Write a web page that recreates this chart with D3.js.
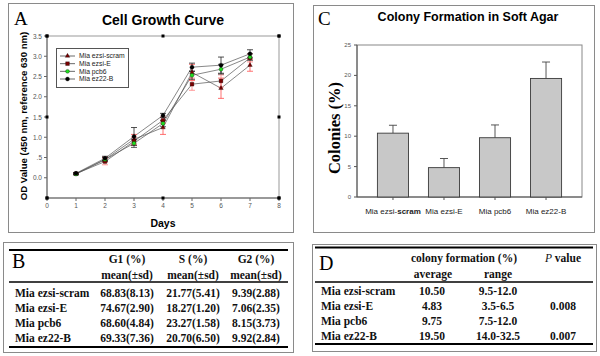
<!DOCTYPE html>
<html>
<head>
<meta charset="utf-8">
<script src="https://cdn.jsdelivr.net/npm/d3@7"></script>
<style>
  body { margin: 0; background: #fff; }
  svg { display: block; }
</style>
</head>
<body>
<svg id="fig"></svg>
<script>
// ---- data ----
const days = [1, 2, 3, 4, 5, 6, 7];
const lineNames = ['Mia ezsi-scram', 'Mia ezsi-E', 'Mia pcb6', 'Mia ez22-B'];

const scramOD = [0.10, 0.45, 0.95, 1.24, 2.60, 2.21, 2.78];
const scramSD = [0.02, 0.06, 0.12, 0.17, 0.20, 0.25, 0.15];
const ezsiEOD = [0.10, 0.40, 0.90, 1.42, 2.31, 2.39, 2.96];
const ezsiESD = [0.02, 0.08, 0.10, 0.08, 0.15, 0.15, 0.10];
const pcb6OD  = [0.09, 0.45, 0.85, 1.34, 2.53, 2.68, 2.98];
const pcb6SD  = [0.02, 0.05, 0.10, 0.08, 0.10, 0.12, 0.08];
const ez22bOD = [0.11, 0.48, 1.02, 1.54, 2.73, 2.78, 3.06];
const ez22bSD = [0.02, 0.05, 0.22, 0.05, 0.10, 0.20, 0.10];

const odTicks = [0, 0.5, 1, 1.5, 2, 2.5, 3, 3.5];
const odTickLabels = ['0.0', '.5', '1.0', '1.5', '2.0', '2.5', '3.0', '3.5'];
const odMajor = [-0.5, 1.5, 3.5];
const dayTicks = [0, 1, 2, 3, 4, 5, 6, 7, 8];
const dayMajor = [0, 4, 8];

const colonyMean = [10.50, 4.83, 9.75, 19.50];
const colonySD = [1.3, 1.5, 2.1, 2.7];
const colonyTicks = [0, 5, 10, 15, 20, 25];

const g1Text = ['68.83(8.13)', '74.67(2.90)', '68.60(4.84)', '69.33(7.36)'];
const sText  = ['21.77(5.41)', '18.27(1.20)', '23.27(1.58)', '20.70(6.50)'];
const g2Text = ['9.39(2.88)', '7.06(2.35)', '8.15(3.73)', '9.92(2.84)'];

const colonyAvgText = ['10.50', '4.83', '9.75', '19.50'];
const colonyRange = ['9.5-12.0', '3.5-6.5', '7.5-12.0', '14.0-32.5'];
const pValues = ['', '0.008', '', '0.007'];

const SANS = 'Liberation Sans, Arial, sans-serif';
const SERIF = 'Liberation Serif, Times New Roman, serif';

const svg = d3.select('#fig').attr('width', 600).attr('height', 356);

function panelBox(x0, y0, x1, y1) {
    svg.append('rect')
        .attr('x', x0 + 0.5).attr('y', y0 + 0.5)
        .attr('width', x1 - x0).attr('height', y1 - y0)
        .attr('fill', 'none').attr('stroke', '#8a8a8a');
}

function letter(t, x, y, size) {
    svg.append('text').attr('x', x).attr('y', y)
        .style('font-family', SERIF).style('font-size', size + 'px')
        .text(t);
}

// ================= A : growth curve =================
function drawGrowth() {
    panelBox(8, 3, 293, 232);
    letter('A', 14, 25, 19);

    const x = d3.scaleLinear().domain([0, 8]).range([47, 279]);
    const y = d3.scaleLinear().domain([-0.5, 3.5]).range([198, 36]);
    const g = svg.append('g');

    g.append('text').attr('x', 163).attr('y', 25)
        .attr('text-anchor', 'middle')
        .style('font-family', SANS).style('font-weight', 'bold').style('font-size', '14px')
        .text('Cell Growth Curve');

    // frame
    g.append('rect').attr('x', x(0)).attr('y', y(3.5))
        .attr('width', x(8) - x(0)).attr('height', y(-0.5) - y(3.5))
        .attr('fill', 'none').attr('stroke', '#999');
    g.append('path')
        .attr('d', `M${x(0)},${y(3.5)}V${y(-0.5)}H${x(8)}`)
        .attr('fill', 'none').attr('stroke', '#666');

    // minor ticks + labels
    g.selectAll('.ytk').data(odTicks).enter().append('line')
        .attr('x1', x(0) - 3).attr('x2', x(0))
        .attr('y1', d => y(d)).attr('y2', d => y(d))
        .attr('stroke', '#666');
    g.selectAll('.ylb').data(odTicks).enter().append('text')
        .attr('x', x(0) - 5).attr('y', d => y(d) + 2.5)
        .attr('text-anchor', 'end')
        .style('font-family', SANS).style('font-size', '6.5px').attr('fill', '#555')
        .text((d, i) => odTickLabels[i]);
    g.selectAll('.xtk').data(dayTicks).enter().append('line')
        .attr('x1', d => x(d)).attr('x2', d => x(d))
        .attr('y1', y(-0.5)).attr('y2', y(-0.5) + 3)
        .attr('stroke', '#666');
    g.selectAll('.xlb').data(dayTicks).enter().append('text')
        .attr('x', d => x(d)).attr('y', y(-0.5) + 10)
        .attr('text-anchor', 'middle')
        .style('font-family', SANS).style('font-size', '6.5px').attr('fill', '#555')
        .text(d => d);

    // black square major ticks on all four sides
    const sq = [];
    odMajor.forEach(v => { sq.push([x(0), y(v)]); sq.push([x(8), y(v)]); });
    dayMajor.forEach(d => { sq.push([x(d), y(3.5)]); sq.push([x(d), y(-0.5)]); });
    g.selectAll('.sq').data(sq).enter().append('rect')
        .attr('x', d => d[0] - 1.5).attr('y', d => d[1] - 1.5)
        .attr('width', 3).attr('height', 3).attr('fill', '#000');

    g.append('text').attr('x', 163).attr('y', 227)
        .attr('text-anchor', 'middle')
        .style('font-family', SANS).style('font-weight', 'bold').style('font-size', '10.5px')
        .text('Days');
    g.append('text')
        .attr('transform', 'translate(27,116) rotate(-90)')
        .attr('text-anchor', 'middle')
        .style('font-family', SANS).style('font-weight', 'bold').style('font-size', '9.6px')
        .text('OD Value (450 nm, reference 630 nm)');

    const series = [
        { name: lineNames[0], od: scramOD, sd: scramSD, fill: '#7a0000', sym: d3.symbolTriangle, size: 9, err: '#ff4d4d' },
        { name: lineNames[1], od: ezsiEOD, sd: ezsiESD, fill: '#7a0000', sym: d3.symbolSquare, size: 14, err: '#ff7f7f' },
        { name: lineNames[2], od: pcb6OD, sd: pcb6SD, fill: '#22dd22', sym: d3.symbolCircle, size: 12, err: '#333' },
        { name: lineNames[3], od: ez22bOD, sd: ez22bSD, fill: '#000', sym: d3.symbolCircle, size: 13, err: '#222' },
    ];

    const line = d3.line().x((d, i) => x(days[i])).y(d => y(d));
    series.forEach(s => {
        g.append('path').datum(s.od).attr('d', line)
            .attr('fill', 'none').attr('stroke', '#555').attr('stroke-width', 0.7);
    });
    series.forEach(s => {
        const eb = g.append('g').attr('stroke', s.err).attr('stroke-width', 0.8);
        days.forEach((d, i) => {
            const lo = y(s.od[i] - s.sd[i]), hi = y(s.od[i] + s.sd[i]);
            eb.append('line').attr('x1', x(d)).attr('x2', x(d)).attr('y1', lo).attr('y2', hi);
            eb.append('line').attr('x1', x(d) - 3).attr('x2', x(d) + 3).attr('y1', lo).attr('y2', lo);
            eb.append('line').attr('x1', x(d) - 3).attr('x2', x(d) + 3).attr('y1', hi).attr('y2', hi);
        });
    });
    series.forEach(s => {
        g.selectAll(null).data(s.od).enter().append('path')
            .attr('d', d3.symbol().type(s.sym).size(s.size))
            .attr('transform', (d, i) => `translate(${x(days[i])},${y(d)})`)
            .attr('fill', s.fill).attr('stroke', '#000').attr('stroke-width', 0.3);
    });

    // legend
    const lg = g.append('g');
    lg.append('rect').attr('x', 56.5).attr('y', 48.5).attr('width', 72).attr('height', 39)
        .attr('fill', '#fff').attr('stroke', '#555');
    const ly = d3.scalePoint().domain(lineNames).range([56, 79]);
    series.forEach(s => {
        const yy = ly(s.name);
        lg.append('line').attr('x1', 60).attr('x2', 75).attr('y1', yy).attr('y2', yy)
            .attr('stroke', '#444').attr('stroke-width', 0.8);
        lg.append('path').attr('d', d3.symbol().type(s.sym).size(s.size))
            .attr('transform', `translate(67.5,${yy})`)
            .attr('fill', s.fill).attr('stroke', '#000').attr('stroke-width', 0.3);
        lg.append('text').attr('x', 79).attr('y', yy + 2.3)
            .style('font-family', SANS).style('font-size', '6.8px').attr('fill', '#222')
            .text(s.name);
    });
}

// ================= C : colony formation =================
function drawColony() {
    panelBox(313, 5, 594, 232);
    letter('C', 318, 25, 19);

    const x = d3.scaleBand().domain(lineNames).range([357, 582])
        .paddingInner(0.39).paddingOuter(0.4);
    const y = d3.scaleLinear().domain([0, 25]).range([197, 45]);
    const g = svg.append('g');

    g.append('text').attr('x', 468).attr('y', 21)
        .attr('text-anchor', 'middle')
        .style('font-family', SANS).style('font-weight', 'bold').style('font-size', '12.5px')
        .text('Colony Formation in Soft Agar');

    g.append('rect').attr('x', 357).attr('y', y(25))
        .attr('width', 582 - 357).attr('height', y(0) - y(25))
        .attr('fill', 'none').attr('stroke', '#888');
    g.append('path').attr('d', `M357,${y(25)}V${y(0)}H582`)
        .attr('fill', 'none').attr('stroke', '#555');

    g.selectAll('.ytk').data(colonyTicks).enter().append('line')
        .attr('x1', 354).attr('x2', 357)
        .attr('y1', d => y(d)).attr('y2', d => y(d)).attr('stroke', '#555');
    g.selectAll('.ylb').data(colonyTicks).enter().append('text')
        .attr('x', 351).attr('y', d => y(d) + 2)
        .attr('text-anchor', 'end')
        .style('font-family', SANS).style('font-size', '6px').attr('fill', '#555')
        .text(d => d);

    // error bars (upper only)
    g.selectAll('.eb').data(colonyMean).enter().append('path')
        .attr('d', (d, i) => {
            const cx = x(lineNames[i]) + x.bandwidth() / 2;
            return `M${cx},${y(d)}V${y(d + colonySD[i])}M${cx - 4},${y(d + colonySD[i])}H${cx + 4}`;
        })
        .attr('fill', 'none').attr('stroke', '#444').attr('stroke-width', 0.9);

    g.selectAll('.bar').data(colonyMean).enter().append('rect')
        .attr('x', (d, i) => x(lineNames[i]))
        .attr('y', d => y(d))
        .attr('width', x.bandwidth())
        .attr('height', d => y(0) - y(d))
        .attr('fill', '#c8c8c8').attr('stroke', '#3a3a3a').attr('stroke-width', 0.9);

    g.selectAll('.xtk').data(lineNames).enter().append('line')
        .attr('x1', d => x(d) + x.bandwidth() / 2).attr('x2', d => x(d) + x.bandwidth() / 2)
        .attr('y1', y(0)).attr('y2', y(0) + 3).attr('stroke', '#555');
    const lbl = g.selectAll('.xlb').data(lineNames).enter().append('text')
        .attr('x', d => x(d) + x.bandwidth() / 2).attr('y', 214)
        .attr('text-anchor', 'middle')
        .style('font-family', SANS).style('font-size', '8px').attr('fill', '#222');
    lbl.each(function (d) {
        const t = d3.select(this);
        if (d.endsWith('scram')) {
            t.append('tspan').text('Mia ezsi-');
            t.append('tspan').style('font-weight', 'bold').text('scram');
        } else {
            t.text(d);
        }
    });

    g.append('text')
        .attr('transform', 'translate(340,128) rotate(-90)')
        .attr('text-anchor', 'middle')
        .style('font-family', SERIF).style('font-weight', 'bold').style('font-size', '16.5px')
        .text('Colonies (%)');
}

// ================= tables =================
function tableText(x, y, t, anchor, opts) {
    const el = svg.append('text').attr('x', x).attr('y', y)
        .attr('text-anchor', anchor || 'middle')
        .style('font-family', SERIF).style('font-weight', 'bold').style('font-size', '11.5px')
        .attr('fill', '#111');
    if (opts && opts.italicFirst) {
        el.append('tspan').style('font-style', 'italic').style('font-weight', 'normal').text(t[0]);
        el.append('tspan').text(t.slice(1));
    } else {
        el.text(t);
    }
    return el;
}

function rule(x0, x1, yy, w) {
    svg.append('line').attr('x1', x0).attr('x2', x1).attr('y1', yy).attr('y2', yy)
        .attr('stroke', '#000').attr('stroke-width', w);
}

function drawTableB() {
    panelBox(3, 242, 293, 352);
    letter('B', 12, 268, 20);
    rule(9, 288, 250, 2);
    rule(9, 288, 282, 1.6);
    rule(9, 288, 347, 2);

    const cols = [127, 193, 256];
    const heads = [['G1 (%)', 'mean(\u00b1sd)'], ['S (%)', 'mean(\u00b1sd)'], ['G2 (%)', 'mean(\u00b1sd)']];
    heads.forEach((h, i) => {
        tableText(cols[i], 263, h[0]);
        tableText(cols[i], 279, h[1]);
    });

    const row = d3.scaleBand().domain(lineNames).range([285, 346]);
    const yb = d => row(d) + row.bandwidth() / 2 + 4;
    lineNames.forEach((n, i) => {
        tableText(15, yb(n), n, 'start');
        tableText(cols[0], yb(n), g1Text[i]);
        tableText(cols[1], yb(n), sText[i]);
        tableText(cols[2], yb(n), g2Text[i]);
    });
}

function drawTableD() {
    panelBox(312, 244, 596, 351);
    letter('D', 319, 270, 20);
    rule(315, 593, 247.5, 2);
    rule(315, 593, 282, 1.6);
    rule(315, 593, 344, 2);

    tableText(464, 262, 'colony formation (%)');
    tableText(563, 262, 'P value', 'middle', { italicFirst: true });
    tableText(433, 278, 'average');
    tableText(498, 278, 'range');

    const row = d3.scaleBand().domain(lineNames).range([283.5, 343.5]);
    const yb = d => row(d) + row.bandwidth() / 2 + 4;
    lineNames.forEach((n, i) => {
        tableText(321, yb(n), n, 'start');
        tableText(432, yb(n), colonyAvgText[i]);
        tableText(498, yb(n), colonyRange[i]);
        if (pValues[i]) tableText(563, yb(n), pValues[i]);
    });
}

drawGrowth();
drawColony();
drawTableB();
drawTableD();
</script>
</body>
</html>
